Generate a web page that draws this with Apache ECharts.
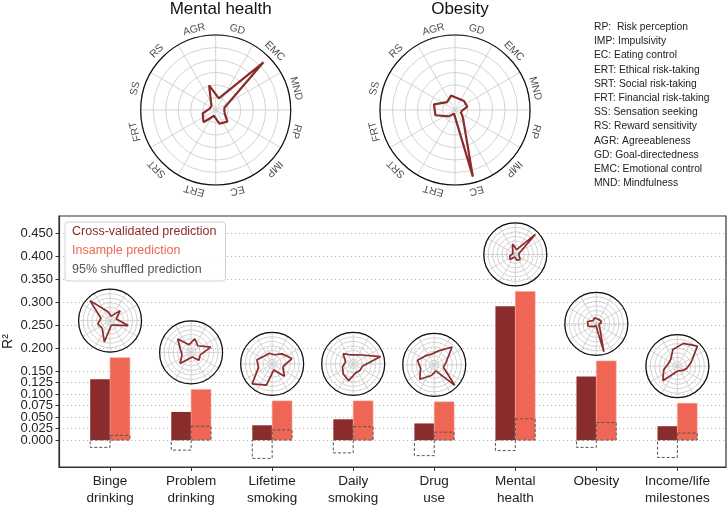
<!DOCTYPE html>
<html><head><meta charset="utf-8">
<script src="https://cdn.jsdelivr.net/npm/echarts@6/dist/echarts.min.js"></script>
<style>html,body{margin:0;padding:0;background:#fff}#c{width:728px;height:507px}</style>
</head><body><div id="c"></div>
<script>
// ---------------- data ----------------
const categories = ['Binge\ndrinking','Problem\ndrinking','Lifetime\nsmoking','Daily\nsmoking','Drug\nuse','Mental\nhealth','Obesity','Income/life\nmilestones'];
const crossValidated = [0.132, 0.061, 0.032, 0.045, 0.036, 0.291, 0.138, 0.030];
const insample       = [0.179, 0.110, 0.085, 0.085, 0.083, 0.323, 0.172, 0.080];
const shuffledCV     = [-0.016, -0.022, -0.040, -0.028, -0.034, -0.023, -0.016, -0.038];
const shuffledIns    = [0.010, 0.030, 0.022, 0.029, 0.017, 0.046, 0.038, 0.015];
const yTicks = [0, 0.025, 0.05, 0.075, 0.1, 0.125, 0.15, 0.2, 0.25, 0.3, 0.35, 0.4, 0.45];

const traitAbbr  = ['RP','IMP','EC','ERT','SRT','FRT','SS','RS','AGR','GD','EMC','MND'];
const traitAngle = [345, 315, 285, 255, 225, 195, 165, 135, 105, 75, 45, 15];
const traitNames = ['RP:  Risk perception','IMP: Impulsivity','EC: Eating control','ERT: Ethical risk-taking','SRT: Social risk-taking','FRT: Financial risk-taking','SS: Sensation seeking','RS: Reward sensitivity','AGR: Agreeableness','GD: Goal-directedness','EMC: Emotional control','MND: Mindfulness'];

// trait profiles (RP, IMP, EC, ERT, SRT, FRT, SS, RS, AGR, GD, EMC, MND), fraction of outer ring
const profileBinge    = [0.60, 0.20, 0.15, 0.70, 0.35, 0.40, 0.30, 0.90, 0.30, 0.15, 0.45, 0.20];
const profileProblem  = [0.30, 0.35, 0.15, 0.20, 0.50, 0.30, 0.35, 0.60, 0.25, 0.45, 0.30, 0.65];
const profileLifetime = [0.35, 0.55, 0.20, 0.70, 0.90, 0.45, 0.50, 0.35, 0.35, 0.30, 0.45, 0.65];
const profileDaily    = [0.30, 0.30, 0.30, 0.55, 0.45, 0.35, 0.25, 0.45, 0.30, 0.30, 0.40, 0.90];
const profileDrug     = [0.30, 0.92, 0.20, 0.35, 0.65, 0.45, 0.55, 0.40, 0.35, 0.45, 0.80, 0.40];
const profileMental   = [0.12, 0.22, 0.19, 0.08, 0.23, 0.18, 0.08, 0.08, 0.34, 0.16, 0.90, 0.12];
const profileObesity  = [0.08, 0.15, 0.92, 0.05, 0.12, 0.27, 0.29, 0.15, 0.20, 0.16, 0.17, 0.17];
const profileIncome   = [0.30, 0.20, 0.15, 0.20, 0.65, 0.45, 0.30, 0.30, 0.55, 0.75, 0.90, 0.45];
const smallProfiles = [profileBinge, profileProblem, profileLifetime, profileDaily, profileDrug, profileMental, profileObesity, profileIncome];

// ---------------- style ----------------
const DARK = '#8a2c2b', LIGHT = '#ef6654', FONT = '"Liberation Sans", Arial, sans-serif';
const BAR_W = 0.245;
const Y_MIN = -0.0587, Y_MAX = 0.487;
// tick labels are split over two overlaid axes so that the library never drops a crowded label
const ticksA = yTicks.filter((v, i) => i % 2 === 0);
const ticksB = yTicks.filter((v, i) => i % 2 === 1);

const chart = echarts.init(document.getElementById('c'), null, {renderer: 'canvas'});

function barSeries(name, vals, off, style) {
  return {
    type: 'custom', name: name, z: style.z || 2,
    data: vals.map((v, i) => [i, v, off]),
    renderItem: function (params, api) {
      const i = api.value(0), v = api.value(1), o = api.value(2);
      const a = api.coord([i + o, v]);
      const b = api.coord([i + o + BAR_W, 0]);
      return {
        type: 'rect',
        shape: {x: a[0], y: Math.min(a[1], b[1]), width: b[0] - a[0], height: Math.abs(b[1] - a[1])},
        style: style.s
      };
    }
  };
}

function yAxisFor(ticks, main) {
  return {
    type: 'value', min: Y_MIN, max: Y_MAX, position: 'left', offset: 0,
    name: main ? 'R²' : '', nameLocation: 'middle', nameGap: 44, nameRotate: 90, nameMoveOverlap: false,
    nameTextStyle: {color: '#222', fontSize: 14, fontFamily: FONT},
    axisLine: {show: main, onZero: false, lineStyle: {color: '#333', width: 1.2}},
    axisTick: {show: true, customValues: ticks, length: 3.5, lineStyle: {color: '#333'}},
    axisLabel: {customValues: ticks, formatter: v => v.toFixed(3), color: '#222', fontSize: 13,
      margin: 6, fontFamily: FONT, hideOverlap: false, showMinLabel: true, showMaxLabel: true},
    splitLine: {show: true, lineStyle: {color: '#bbb', type: [1.2, 2.8], width: 1.2}}
  };
}

const base = {
  animation: false,
  textStyle: {fontFamily: FONT},
  grid: {left: 59, right: 2, top: 216, bottom: 40, show: true, borderColor: '#333', borderWidth: 1.2,
    containLabel: false, outerBoundsMode: 'none'},
  xAxis: {
    type: 'value', min: -0.63, max: 7.60,
    axisLine: {onZero: false, lineStyle: {color: '#333', width: 1.2}},
    axisTick: {customValues: categories.map((c, i) => i), length: 4, lineStyle: {color: '#333'}},
    axisLabel: {customValues: categories.map((c, i) => i), formatter: v => categories[Math.round(v)],
      color: '#222', fontSize: 13.5, lineHeight: 17, margin: 6, fontFamily: FONT},
    splitLine: {show: false}
  },
  yAxis: [yAxisFor(ticksA, true), yAxisFor(ticksB, false)],
  legend: {
    left: 65, top: 222, orient: 'vertical', icon: 'none', itemWidth: 0, itemHeight: 14, itemGap: 5,
    padding: [3, 9, 4, 2], backgroundColor: 'rgba(255,255,255,0.9)', borderColor: '#d0d0d0', borderWidth: 1, borderRadius: 3,
    textStyle: {fontSize: 12.5, lineHeight: 14, fontFamily: FONT},
    selectedMode: false,
    data: [
      {name: 'Cross-validated prediction', textStyle: {color: DARK}},
      {name: 'Insample prediction', textStyle: {color: LIGHT}},
      {name: '95% shuffled prediction', textStyle: {color: '#555'}}
    ]
  },
  title: [
    {text: 'Mental health', left: 215.7, top: -4, textAlign: 'center', textStyle: {fontSize: 17, fontWeight: 'normal', color: '#111', fontFamily: FONT}},
    {text: 'Obesity', left: 455, top: -4, textAlign: 'center', textStyle: {fontSize: 17, fontWeight: 'normal', color: '#111', fontFamily: FONT}},
    {text: traitNames.join('\n'), left: 589, top: 15, textStyle: {fontSize: 10.3, lineHeight: 14.2, fontWeight: 'normal', color: '#222', fontFamily: FONT}}
  ],
  series: [
    barSeries('Cross-validated prediction', crossValidated, -BAR_W, {s: {fill: DARK}}),
    barSeries('Insample prediction', insample, 0, {s: {fill: LIGHT, stroke: '#f6a596', lineWidth: 0.6}}),
    barSeries('95% shuffled prediction', shuffledCV, -BAR_W, {z: 3, s: {fill: 'none', stroke: '#555', lineWidth: 1, lineDash: [3, 2]}}),
    barSeries('95% shuffled prediction', shuffledIns, 0, {z: 3, s: {fill: 'none', stroke: '#555', lineWidth: 1, lineDash: [3, 2]}})
  ]
};
chart.setOption(base);

// ---------------- polar (radar) charts ----------------
const polars = [], angleAxes = [], radiusAxes = [], extra = [];
function addRadar(center, radius, rings, profile, lw, withLabels) {
  const k = polars.length;
  polars.push({center: center, radius: radius});
  angleAxes.push({polarIndex: k, type: 'value', min: 0, max: 360, interval: 30, startAngle: 0, clockwise: false, z: 5,
    axisLine: {show: true, lineStyle: {color: '#111', width: 1.2}}, axisTick: {show: false}, axisLabel: {show: false},
    splitLine: {show: true, lineStyle: {color: '#c8c8c8', width: 0.8}}});
  radiusAxes.push({polarIndex: k, type: 'value', min: 0, max: 1, interval: 1 / rings,
    axisLine: {show: false}, axisTick: {show: false}, axisLabel: {show: false},
    splitLine: {show: true, lineStyle: {color: '#c8c8c8', width: 0.8}}});
  const pts = profile.map((r, j) => [r, traitAngle[j]]);
  pts.push(pts[0]);
  extra.push({type: 'line', coordinateSystem: 'polar', polarIndex: k, data: pts, symbol: 'none', z: 6,
    lineStyle: {color: DARK, width: lw}, silent: true});
  if (withLabels) {
    extra.push({type: 'scatter', coordinateSystem: 'polar', polarIndex: k, clip: false, symbolSize: 0, silent: true,
      data: traitAbbr.map((n, j) => ({name: n, value: [1.11, traitAngle[j]], label: {rotate: traitAngle[j] - 90}})),
      label: {show: true, formatter: '{b}', position: 'inside', align: 'center', verticalAlign: 'middle',
        color: '#222', fontSize: 10.5, fontFamily: FONT}});
  }
}
addRadar([215.7, 110], 75, 6, profileMental, 2.2, true);
addRadar([455, 110], 75, 6, profileObesity, 2.2, true);
smallProfiles.forEach((p, i) => {
  const px = chart.convertToPixel({gridIndex: 0}, [i, insample[i]]);
  addRadar([px[0], px[1] - 37], 31.5, 7, p, 1.7, false);
});

base.polar = polars;
base.angleAxis = angleAxes;
base.radiusAxis = radiusAxes;
base.series = base.series.concat(extra);
chart.setOption(base, true);
</script></body></html>
